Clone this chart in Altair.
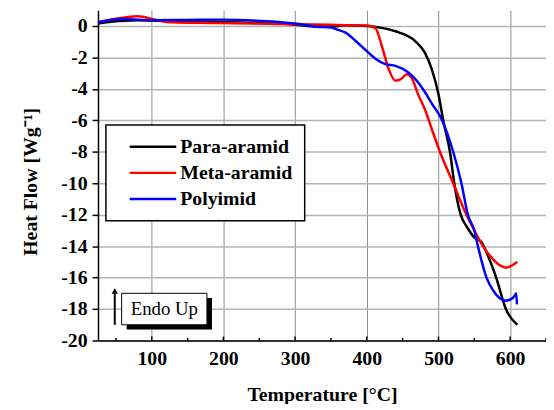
import altair as alt
import pandas as pd

# ---- data ----
series_names = ["Para-aramid", "Meta-aramid", "Polyimid"]
series_colors = ["#000000", "#ff0000", "#0000ff"]

para_T = [25, 40, 60, 80, 100, 150, 200, 250, 300, 330, 350, 370, 400, 412, 440, 467.5, 481, 490.6,
          500, 507, 516, 522, 531, 540, 550, 560, 568, 580.5, 594, 610]
para_H = [0.15, 0.25, 0.33, 0.36, 0.34, 0.28, 0.25, 0.18, 0.08, -0.05, -0.05, 0.04, 0.0, -0.06, -0.34, -0.96,
          -1.7, -2.75, -4.35, -6.1, -8.0, -10.0, -12.0, -12.8, -13.45, -13.75, -14.5, -16.0, -18.0, -19.0]

meta_T = [25, 50, 80, 108, 126, 160, 200, 250, 300, 350, 371, 400, 412, 421, 430.6, 440, 447, 456, 463,
          472, 481, 491, 502, 520.5, 539, 550, 562, 573.5, 585, 594, 603.5, 610]
meta_H = [0.23, 0.45, 0.61, 0.36, 0.23, 0.2, 0.18, 0.15, 0.1, 0.07, 0.05, 0.02, -0.15, -1.28, -2.75, -3.48,
          -3.4, -3.08, -3.35, -4.4, -5.3, -6.6, -8.0, -10.0, -12.0, -13.0, -14.0, -14.7, -15.2, -15.37,
          -15.2, -15.0]

poly_T = [25, 40, 62, 100, 150, 200, 250, 300, 330, 350, 360, 371, 384.5, 400, 412, 426, 440, 458, 470,
          481, 491, 504, 520.5, 532, 541, 550, 555, 567, 576, 585, 594, 603.5, 607, 608.5, 609.5]
poly_H = [0.23, 0.35, 0.44, 0.36, 0.38, 0.4, 0.32, 0.15, -0.05, -0.1, -0.25, -0.44, -0.96, -1.6, -2.08,
          -2.43, -2.54, -2.96, -3.5, -4.2, -4.95, -5.9, -8.0, -10.0, -12.0, -13.0, -14.0, -16.0, -16.8,
          -17.3, -17.47, -17.3, -17.1, -17.0, -17.7]

x_label_values = [100, 200, 300, 400, 500, 600]
x_tick_values = [50, 100, 150, 200, 250, 300, 350, 400, 450, 500, 550, 600, 650]
y_tick_values = list(range(-20, 2))

endo_text = ["Endo Up"]

# ---- tables ----
rows = []
for name, ts, hs in zip(series_names, [para_T, meta_T, poly_T], [para_H, meta_H, poly_H]):
    for i, (t, h) in enumerate(zip(ts, hs)):
        rows.append({"series": name, "T": t, "H": h, "ord": i})
df = pd.DataFrame(rows)

xt = pd.DataFrame({"T": x_tick_values})
xt["H"] = -20.0
xt["H2"] = [-20 + (0.25 if v % 100 == 0 else 0.16) for v in x_tick_values]

box = pd.DataFrame({"T": [58], "T2": [177], "H": [-17.0], "H2": [-19.0]})
shadow = pd.DataFrame({"T": [65], "T2": [184], "H": [-17.3], "H2": [-19.3]})
label = pd.DataFrame({"T": [117.5], "H": [-18.4], "text": endo_text})
arrow = pd.DataFrame({"T": [48.4], "H": [-19.0], "H2": [-16.9]})
arrow_head = pd.DataFrame({"T": [48.4], "H": [-16.85]})

FONT = "Liberation Serif"

x_scale = alt.Scale(domain=[25, 650], nice=False, zero=False)
y_scale = alt.Scale(domain=[-20, 1], nice=False, zero=False)

x_axis = alt.Axis(
    values=x_label_values, title="Temperature [°C]", grid=True, gridColor="#8f8f8f", gridWidth=1,
    ticks=False, labelFont=FONT, labelFontSize=20, labelFontWeight="bold", labelColor="black",
    labelPadding=8, domainColor="black", domainWidth=1.5, titleFont=FONT, titleFontSize=20,
    titleFontWeight="bold", titleColor="black", titleX=226.5, titleY=61, titleBaseline="alphabetic",
    titleAlign="center", labelFlush=False, labelOverlap=False,
)
y_axis = alt.Axis(
    values=y_tick_values, tickCount=21, title="Heat Flow [Wg⁻¹]", grid=True, gridColor="#b4b4b4",
    gridWidth=1.5,
    gridOpacity={"condition": {"test": "abs(datum.value) % 2 > 0.5", "value": 0}, "value": 1},
    tickSize={"condition": {"test": "abs(datum.value) % 2 > 0.5", "value": 4}, "value": 6},
    tickColor="black", tickWidth=1.5,
    labelExpr="abs(datum.value) % 2 < 0.5 ? toString(datum.value) : ''",
    labelFont=FONT, labelFontSize=20, labelFontWeight="bold", labelColor="black", labelPadding=5,
    labelOverlap=False, labelBaseline="middle",
    domainColor="black", domainWidth=1.5, titleFont=FONT, titleFontSize=20, titleFontWeight="bold",
    titleColor="black", titleX=-62, titleY=173, titleAngle=270, titleBaseline="alphabetic",
    titleAlign="center", labelFlush=False,
)

X = alt.X("T:Q", scale=x_scale, axis=x_axis)
Y = alt.Y("H:Q", scale=y_scale, axis=y_axis)

lines = alt.Chart(df).mark_line(strokeWidth=2.5, interpolate="monotone").encode(
    x=X,
    y=Y,
    color=alt.Color(
        "series:N",
        scale=alt.Scale(domain=series_names, range=series_colors),
        legend=alt.Legend(
            orient="none", legendX=8, legendY=116, title=None,
            labelExpr="datum.label + '\u00a0\u00a0\u00a0\u00a0\u00a0'",
        ),
    ),
    order="ord:Q",
)

ticks = alt.Chart(xt).mark_rule(color="black", strokeWidth=1.5).encode(
    x=X, y=Y, y2="H2:Q"
)

shadow_l = alt.Chart(shadow).mark_rect(color="black").encode(
    x=X, x2="T2:Q", y=Y, y2="H2:Q"
)
box_l = alt.Chart(box).mark_rect(fill="white", stroke="black", strokeWidth=1).encode(
    x=X, x2="T2:Q", y=Y, y2="H2:Q"
)
text_l = alt.Chart(label).mark_text(font=FONT, fontSize=19, color="black", align="center",
                                    baseline="alphabetic").encode(
    x=X, y=Y, text="text:N"
)
arrow_l = alt.Chart(arrow).mark_rule(color="black", strokeWidth=2).encode(
    x=X, y=Y, y2="H2:Q"
)
head_l = alt.Chart(arrow_head).mark_point(shape="triangle-up", filled=True, color="black", size=40,
                                          opacity=1).encode(
    x=X, y=Y
)

chart = alt.layer(lines, ticks, shadow_l, box_l, text_l, arrow_l, head_l).properties(
    width=453, height=334,
    autosize=alt.AutoSizeParams(type="none"),
    padding={"left": 91, "top": 0, "right": 0, "bottom": 62},
    background="white",
).configure_view(stroke=None).configure_legend(
    strokeColor="black", fillColor="white", padding=12, strokeWidth=1.5, cornerRadius=0,
    symbolType="M-4,0H4", symbolSize=138, symbolStrokeWidth=2.5, symbolOffset=25.6,
    symbolFillColor="transparent",
    labelFont=FONT, labelFontSize=20, labelFontWeight="bold", labelColor="black", labelOffset=17.6,
    rowPadding=6.5, labelLimit=300,
)

chart.save("out.html", embed_options={"renderer": "svg", "actions": False})
